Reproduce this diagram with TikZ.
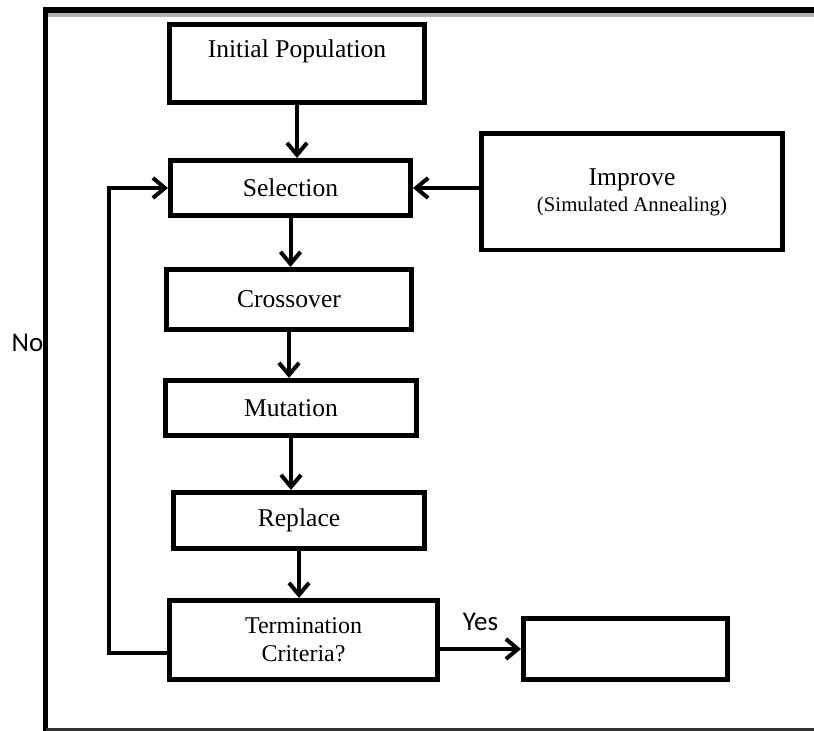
\documentclass[tikz,border=0pt]{standalone}
\usepackage{fontspec}
\setmainfont{Liberation Serif}
\newfontfamily\labelfont{Carlito}
\usetikzlibrary{positioning, arrows.meta}

\begin{document}
\begin{tikzpicture}[
        block/.style={rectangle, draw, line width=2.4pt, align=center, font=\fontsize{12.8}{15}\selectfont},
        flow/.style={-{Straight Barb[length=6pt, width=10pt]}, line width=2pt},
        answer/.style={font=\labelfont\fontsize{13.5}{16}\selectfont}
    ]
    \useasboundingbox (0,0) rectangle (407pt,-365.5pt);

    % Outer frame
    \draw[gray!60, line width=2pt] (24pt,-7.4pt) -- (407pt,-7.4pt);
    \draw[line width=2.8pt] (407pt,-5pt) -- (22.75pt,-5pt) -- (22.75pt,-366pt);
    \draw[black!80, line width=1.5pt] (22.75pt,-364.8pt) -- (407pt,-364.8pt);

    % GA steps
    \node[block, minimum width=127.6pt, minimum height=39.1pt] (init) at (148.5pt,-31.75pt) {Initial Population\\ \mbox{}};
    \node[block, minimum width=120.1pt, minimum height=27.6pt, below=26.5pt of init, xshift=-3.25pt] (sel) {Selection};
    \node[block, minimum width=122.6pt, minimum height=30.1pt, below=24.5pt of sel, xshift=-0.75pt] (cross) {Crossover};
    \node[block, minimum width=125.6pt, minimum height=27.6pt, below=23pt of cross, xshift=1pt] (mut) {Mutation};
    \node[block, minimum width=125.6pt, minimum height=28.1pt, below=26pt of mut, xshift=4pt] (repl) {Replace};
    \node[block, minimum width=134.1pt, minimum height=39.6pt, below=23.5pt of repl, xshift=2.25pt,
        font=\fontsize{12}{14}\selectfont] (term) {Termination\\Criteria?};

    % Local search and exit
    \node[block, minimum width=150.6pt, minimum height=58.1pt, right=33pt of sel, yshift=-2pt] (impr)
        {Improve\\[-2pt]{\fontsize{10.4}{12}\selectfont (Simulated Annealing)}};
    \node[block, minimum width=102.1pt, minimum height=30.6pt, right=40.5pt of term, yshift=-4.5pt] (stop) {};

    \draw[flow] (init) -- (init |- sel.north);
    \draw[flow] (sel) -- (sel |- cross.north);
    \draw[flow] (cross) -- (cross |- mut.north);
    \draw[flow] (mut) -- (mut |- repl.north);
    \draw[flow] (repl) -- (repl |- term.north);
    \draw[flow] (impr.west |- sel.east) -- (sel.east);
    \draw[flow] (term.east |- stop.west) -- (stop.west) node[midway, above=5pt, answer] (yes) {Yes};
    \draw[flow] ([yshift=-6.5pt]term.west) -- ++(-29pt,0) |- (sel.west);

    \node[answer] (no) at (13.75pt,-171.5pt) {No};
\end{tikzpicture}
\end{document}
